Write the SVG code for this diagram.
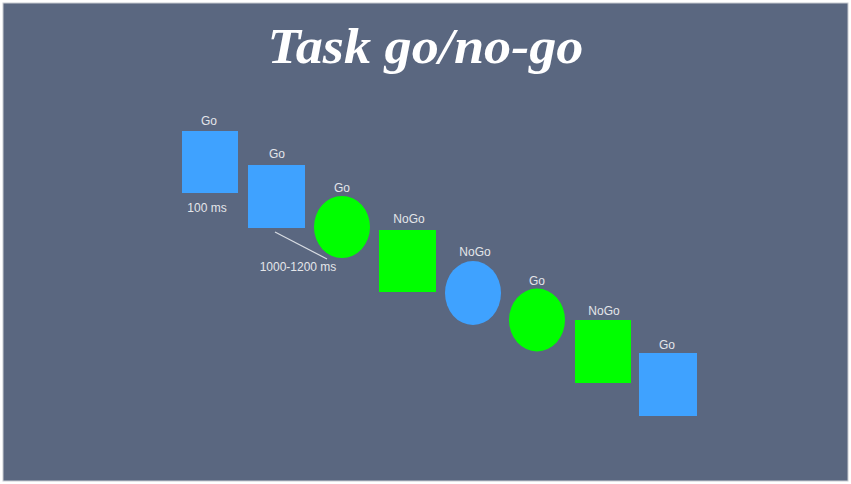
<svg xmlns="http://www.w3.org/2000/svg" width="851" height="484" viewBox="0 0 851 484">
<style>
.lbl{font-family:"Liberation Sans",Arial,sans-serif;font-size:12px;fill:#e4e6ea;text-anchor:middle}
.blue{fill:#3fa2ff}
.green{fill:#00ff00}
</style>
<rect x="0" y="0" width="851" height="484" fill="#ffffff"/>
<rect x="3" y="3" width="845" height="478" fill="#5a6780" stroke="#c8ccd2" stroke-width="1"/>
<text x="425.5" y="63" font-family="'Liberation Serif','Times New Roman',serif" font-size="50" font-style="italic" font-weight="bold" fill="#ffffff" text-anchor="middle" textLength="316" lengthAdjust="spacingAndGlyphs">Task go/no-go</text>
<g id="connectors">
<line x1="275" y1="232" x2="327" y2="259" stroke="#d8dce2" stroke-width="1.2"/>
</g>
<g id="s1"><rect class="blue" x="182" y="131" width="56" height="62"/><text class="lbl" x="209" y="125">Go</text><text class="lbl" x="207" y="212">100 ms</text></g>
<g id="s2"><rect class="blue" x="248" y="165" width="57" height="63"/><text class="lbl" x="277" y="158">Go</text><text class="lbl" x="298" y="271">1000-1200 ms</text></g>
<g id="s3"><ellipse class="green" cx="342" cy="227" rx="28" ry="31"/><text class="lbl" x="342" y="192">Go</text></g>
<g id="s4"><rect class="green" x="379" y="230" width="57" height="62"/><text class="lbl" x="409" y="223">NoGo</text></g>
<g id="s5"><ellipse class="blue" cx="473" cy="293" rx="28" ry="32"/><text class="lbl" x="475" y="256">NoGo</text></g>
<g id="s6"><ellipse class="green" cx="537" cy="320" rx="28" ry="31.5"/><text class="lbl" x="537" y="285">Go</text></g>
<g id="s7"><rect class="green" x="575" y="320" width="56" height="63"/><text class="lbl" x="604" y="315">NoGo</text></g>
<g id="s8"><rect class="blue" x="639" y="353" width="58" height="63"/><text class="lbl" x="667" y="349">Go</text></g>
</svg>
